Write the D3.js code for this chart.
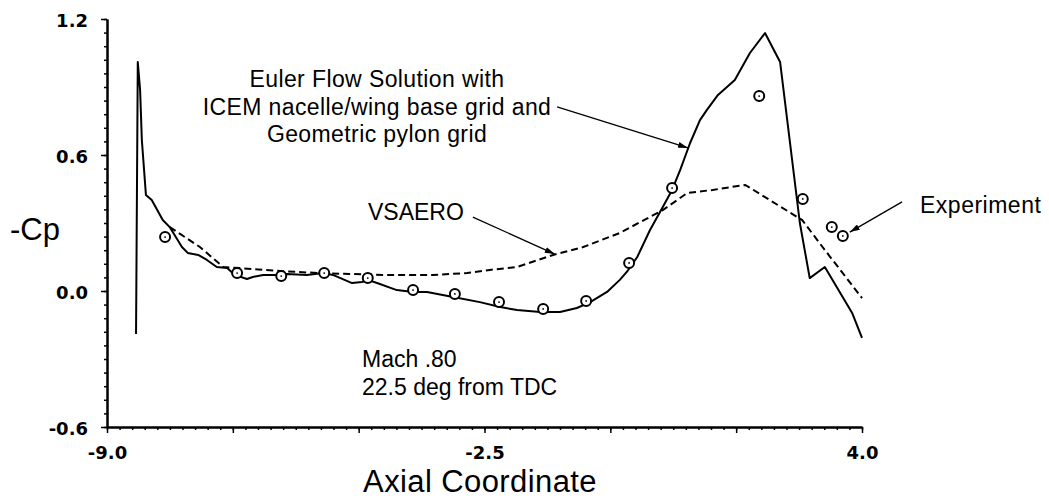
<!DOCTYPE html>
<html lang="en">
<head>
    <meta charset="UTF-8">
    <title>-Cp vs Axial Coordinate</title>
    <style>
        body { margin: 0; background: #fff; }
        text { font-family: "Liberation Sans", Arial, Helvetica, sans-serif; fill: #000; }
    </style>
</head>
<body>
<div class="graph"></div>
<script src="https://d3js.org/d3.v7.min.js"></script>
<script>
    var w = 1049, h = 500;

    // Euler flow solution (solid)
    var eulerX = [-8.50, -8.47, -8.43, -8.40, -8.33, -8.23, -8.04, -7.92, -7.71, -7.61, -7.43, -7.28,
                  -7.11, -6.93, -6.80, -6.59, -6.49, -6.31, -6.07, -5.90, -5.56, -5.28, -5.11, -4.78,
                  -4.61, -4.51, -4.35, -4.01, -3.73, -3.49, -3.04, -2.58, -2.23, -1.94, -1.54, -1.20,
                  -0.91, -0.68, -0.39, -0.17, -0.05, 0.13, 0.35, 0.57, 0.73, 0.87, 1.04, 1.21,
                  1.33, 1.52, 1.81, 2.07, 2.33, 2.59, 2.93, 3.10, 3.36, 3.83, 4.00];
    var eulerY = [-0.19, 1.01, 0.887, 0.666, 0.424, 0.401, 0.313, 0.282, 0.194, 0.168, 0.159, 0.137,
                  0.106, 0.101, 0.071, 0.053, 0.062, 0.071, 0.071, 0.075, 0.071, 0.079, 0.071, 0.035,
                  0.040, 0.049, 0.035, 0.004, -0.004, -0.004, -0.026, -0.049, -0.071, -0.084, -0.093, -0.093,
                  -0.075, -0.049, -0.004, 0.049, 0.084, 0.150, 0.269, 0.371, 0.446, 0.534, 0.653, 0.754,
                  0.799, 0.865, 0.931, 1.050, 1.138, 1.010, 0.300, 0.057, 0.106, -0.097, -0.207];

    // VSAERO (dashed)
    var vsaeroX = [-7.92, -7.40, -7.00, -6.71, -6.49, -6.02, -5.33, -4.25, -3.39, -2.80, -2.41, -1.94,
                   -1.32, -0.80, -0.17, 0.57, 0.99, 1.43, 1.99, 2.97, 3.36, 4.00];
    var vsaeroY = [0.282, 0.194, 0.106, 0.101, 0.097, 0.088, 0.079, 0.071, 0.071, 0.079, 0.093, 0.106,
                   0.159, 0.194, 0.256, 0.357, 0.432, 0.446, 0.468, 0.313, 0.181, -0.031];

    // Experiment (circles)
    var expX = [-8.00, -6.76, -6.00, -5.26, -4.51, -3.73, -3.01, -2.25, -1.49, -0.75, -0.01, 0.73,
                2.23, 2.98, 3.48, 3.67];
    var expY = [0.238, 0.079, 0.066, 0.079, 0.057, 0.004, -0.013, -0.049, -0.079, -0.044, 0.124, 0.454,
                0.860, 0.406, 0.282, 0.243];

    var xTickLabels = [-9.0, -2.5, 4.0];
    var yTickLabels = [1.2, 0.6, 0.0, -0.6];

    var svg = d3.select(".graph")
        .append("svg")
        .attr("width", w)
        .attr("height", h);

    var x = d3.scaleLinear().domain([-9, 4]).range([107, 862]);
    var y = d3.scaleLinear().domain([-0.6, 1.2]).range([427, 19]);

    // minor + major ticks
    var xMinor = d3.range(0, 61).map(function(i) { return -9 + i * 13 / 60; });
    var xMajor = d3.range(0, 7).map(function(i) { return -9 + i * 13 / 6; });
    var yMinor = d3.range(0, 31).map(function(i) { return -0.6 + i * 0.06; });

    var gx = svg.append("g").attr("transform", "translate(0," + y(-0.6) + ")");
    gx.call(d3.axisBottom(x).tickValues(xMinor).tickSize(3).tickSizeOuter(0).tickFormat(""));
    gx.append("g").call(d3.axisBottom(x).tickValues(xMajor).tickSize(6).tickSizeOuter(0)
        .tickFormat(function(d) {
            var hit = xTickLabels.filter(function(v) { return Math.abs(v - d) < 1e-6; });
            return hit.length ? d3.format(".1f")(d) : "";
        }));

    var gy = svg.append("g").attr("transform", "translate(" + x(-9) + ",0)");
    gy.call(d3.axisLeft(y).tickValues(yMinor).tickSize(3).tickSizeOuter(0).tickFormat(""));
    gy.append("g").call(d3.axisLeft(y).tickValues(yTickLabels).tickSize(6).tickSizeOuter(0)
        .tickFormat(d3.format(".1f")));

    svg.selectAll(".domain").attr("stroke", "#000").attr("stroke-width", 2);
    svg.selectAll(".tick line").attr("stroke", "#000").attr("stroke-width", 1.5);
    svg.selectAll(".tick text")
        .style("font-family", "'DejaVu Sans', sans-serif")
        .attr("font-weight", "bold")
        .attr("font-size", 18)
        .attr("fill", "#000")
        .text(function() { return this.textContent.replace("\u2212", "-"); });
    gx.selectAll(".tick text").attr("y", 26).attr("dy", "0.36em");
    gy.selectAll(".tick text").attr("x", -19).attr("dy", "0.42em");

    // axis titles
    svg.append("text").attr("x", 10).attr("y", 240)
        .attr("font-size", 31).text("-Cp");
    svg.append("text").attr("x", 480).attr("y", 492)
        .attr("text-anchor", "middle").attr("font-size", 31).attr("letter-spacing", 0.4)
        .text("Axial Coordinate");

    // curves
    var line = d3.line()
        .x(function(d) { return x(d[0]); })
        .y(function(d) { return y(d[1]); });

    var euler = eulerX.map(function(v, i) { return [v, eulerY[i]]; });
    var vsaero = vsaeroX.map(function(v, i) { return [v, vsaeroY[i]]; });
    var exper = expX.map(function(v, i) { return [v, expY[i]]; });

    svg.append("path").attr("d", line(vsaero))
        .attr("fill", "none").attr("stroke", "#000").attr("stroke-width", 2)
        .attr("stroke-dasharray", "7,4");
    svg.append("path").attr("d", line(euler))
        .attr("fill", "none").attr("stroke", "#000").attr("stroke-width", 2)
        .attr("stroke-linejoin", "round");

    var pts = svg.selectAll(".exp").data(exper).enter().append("g")
        .attr("class", "exp")
        .attr("transform", function(d) { return "translate(" + x(d[0]) + "," + y(d[1]) + ")"; });
    pts.append("circle").attr("r", 5).attr("fill", "#fff").attr("stroke", "#000").attr("stroke-width", 2);
    pts.append("circle").attr("r", 0.9).attr("fill", "#000");

    // annotations
    svg.append("defs").append("marker")
        .attr("id", "head")
        .attr("viewBox", "0 0 10 6")
        .attr("refX", 10).attr("refY", 3)
        .attr("markerWidth", 10).attr("markerHeight", 6)
        .attr("markerUnits", "userSpaceOnUse")
        .attr("orient", "auto")
        .append("path").attr("d", "M0,0 L10,3 L0,6 Z").attr("fill", "#000");

    var arrows = [
        [[-1.25, 0.812], [1.004, 0.631]],
        [[-2.70, 0.326], [-1.29, 0.163]],
        [[4.69, 0.393], [3.79, 0.260]]
    ];
    svg.selectAll(".arrow").data(arrows).enter().append("line")
        .attr("class", "arrow")
        .attr("x1", function(d) { return x(d[0][0]); })
        .attr("y1", function(d) { return y(d[0][1]); })
        .attr("x2", function(d) { return x(d[1][0]); })
        .attr("y2", function(d) { return y(d[1][1]); })
        .attr("stroke", "#000").attr("stroke-width", 1.3)
        .attr("marker-end", "url(#head)");

    var euLines = ["Euler Flow Solution with", "ICEM nacelle/wing base grid and", "Geometric pylon grid"];
    svg.selectAll(".eu").data(euLines).enter().append("text")
        .attr("x", 377)
        .attr("y", function(d, i) { return 87 + i * 27.5; })
        .attr("text-anchor", "middle").attr("font-size", 23).attr("letter-spacing", 0.4)
        .text(function(d) { return d; });

    svg.append("text").attr("x", 368).attr("y", 220).attr("font-size", 23).text("VSAERO");
    svg.append("text").attr("x", 920).attr("y", 213).attr("font-size", 23).attr("letter-spacing", 0.5).text("Experiment");
    svg.append("text").attr("x", 362).attr("y", 367).attr("font-size", 23).text("Mach .80");
    svg.append("text").attr("x", 362).attr("y", 395).attr("font-size", 23).text("22.5 deg from TDC");
</script>
</body>
</html>
